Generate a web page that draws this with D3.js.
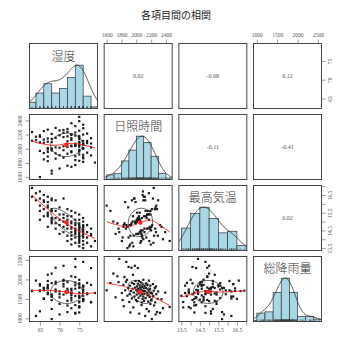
<!DOCTYPE html>
<html>
<head>
<meta charset="utf-8">
<title>各項目間の相関</title>
<style>
  body { margin: 0; background: #fff; }
  .tick text { font-family: "Liberation Serif", "DejaVu Serif", serif; font-size: 5.5px; fill: #555; }
  .tick line { stroke: #555; }
  .corr { font-family: "Liberation Serif", "DejaVu Serif", serif; font-size: 6px; fill: #555; }
  .varname { font-family: "Noto Sans CJK JP", sans-serif; font-size: 12px; fill: #333; font-weight: 300; }
  .title { font-family: "Noto Sans CJK JP", sans-serif; font-size: 10px; fill: #222; }
</style>
</head>
<body>
<svg id="chart" width="351" height="351"></svg>
<script src="https://d3js.org/d3.v7.min.js"></script>
<script>
// variable names (diagonal labels)
const varNames = ['湿度', '日照時間', '最高気温', '総降雨量'];

// one value per year, same order in every array
const humidity = [63,64,63,64,65,66,65,66,66,65, 66,65,66,65,67,68,67,68,67,68,
  67,68,67,68,67,68,67,68,67,68, 69,70,69,70,69,70,69,70,69,70,
  71,72,71,72,71,72,71,72,71,72, 71,72,72,73,74,73,74,73,74,73,
  74,73,74,73,74,73,74,73,74,74, 73,74,73,75,76,75,76,75,76,75,
  76,75,76,75,75,76,75,76,75,76, 75,76,75,76,75,76,75,76,75,76,
  75,77,78,77,78,77,78,77,78,79];
const sunshine = [2235,2170,2115,2120,2090,2085,1970,1940,1850,1600,
  2250,2190,2130,2170,2100,2095,1990,1975,1890,1650,
  2270,2210,2145,2140,2010,2005,1955,1995,1825,1690,
  2295,2260,2155,2190,2020,2015,1935,1910,1860,1720,
  2225,2280,2165,2105,2035,2025,1980,1930,1875,1760,
  2265,2240,2175,2125,2045,2035,2040,1950,1840,1745,
  2320,2205,2185,2150,2060,2045,2070,1965,1895,1770,
  2360,2230,2195,2160,2075,2050,2010,1985,1865,1830,
  2340,2255,2110,2180,2085,2060,2030,2000,1920,1815,
  2390,2290,2135,2200,2095,2065,2055,1915,1960,1880,
  2450,2215,2150,2110,2020,2080,2075,1945,1905,1805];
const maxTemp = [16.9,16.6,16.4,16.2,16.7,16.5,16.3,16.2,16.1,15.9,
  15.7,15.6,15.3,15.1,16.4,16.2,16.1,16.3,15.8,15.6,
  15.9,15.7,15.4,15.2,15.5,15.1,15.3,14.9,14.7,15.0,
  16.2,15.8,15.6,15.4,15.2,15.1,14.9,14.8,14.6,14.3,
  16.3,15.7,15.4,15.3,15.2,15.1,15.0,14.8,14.7,14.6,
  14.4,14.2,13.9,15.6,15.5,15.3,15.1,15.0,14.9,14.9,
  14.8,14.7,14.6,14.6,14.5,14.4,14.3,14.2,14.1,14.4,
  14.0,13.8,13.7,15.4,15.2,15.1,15.0,14.9,14.8,14.8,
  14.7,14.6,14.6,14.7,14.5,14.4,14.3,14.3,14.2,14.1,
  14.4,14.2,14.1,14.5,14.0,13.9,13.8,13.7,13.6,13.5,
  13.9,14.8,14.6,14.4,14.3,14.1,14.2,13.8,13.6,13.9];
const rainfall = [1710,1970,1700,1060,1700,1500,1880,1510,1720,1720,
  1780,1840,1780,1180,1770,1560,1960,1560,1780,1905,
  1620,980,1660,1240,1820,1610,2120,1470,1860,2150,
  1690,1100,1740,1370,1890,1690,2300,1620,1940,1540,
  1880,1160,1610,1450,1960,1760,2350,1700,1990,1930,
  1820,1330,1690,1520,1850,1640,1120,1760,2060,2080,
  1140,1460,1760,1590,1920,1720,1340,1660,2320,2527,
  1260,1570,1650,1430,1810,1790,1440,1790,2450,1310,
  1490,1410,1830,1550,1870,1670,1530,1730,1150,1470,
  1660,1500,1900,1480,1990,1740,1580,1840,1280,1580,
  1290,1640,1860,1630,2290,1620,1410,1910,1420,1650];

// correlation labels (row, col, text)
const corrCells = [[0,1,'0.02'],[0,2,'-0.68'],[0,3,'0.12'],[1,2,'-0.11'],[1,3,'-0.41'],[2,3,'0.02']];

// histogram breaks
const humBreaks = [62,64,66,68,70,72,74,76,78,80];
const sunBreaks = [1600,1700,1800,1900,2000,2100,2200,2300,2400,2500];
const tempBreaks = [13.5,14,14.5,15,15.5,16,16.5,17];
const rainBreaks = [800,1000,1200,1400,1600,1800,2000,2200,2400,2600];

// axis ticks
const humTicks = [65,70,75];
const sunTicks = [1600,1800,2000,2200,2400];
const tempTicks = [13.5,14,14.5,15,15.5,16,16.5,17];
const tempTickLabels = [13.5,14.5,15.5,16.5];
const rainTicks = [1000,1500,2000,2500];

const data = [humidity, sunshine, maxTemp, rainfall];
const breaks = [humBreaks, sunBreaks, tempBreaks, rainBreaks];
const ticks = [humTicks, sunTicks, tempTicks, rainTicks];
const tickFmt = [d => d, d => d, d => tempTickLabels.includes(d) ? d.toFixed(1) : '', d => d];

const svg = d3.select('#chart');

const colBand = d3.scaleBand().domain(d3.range(4)).range([29.5, 321.5]).paddingInner(0.0894);
const rowBand = d3.scaleBand().domain(d3.range(4)).range([43.5, 321.5]).paddingInner(0.0845);
const pw = colBand.bandwidth(), ph = rowBand.bandwidth();

function padded(v) {
  const e = d3.extent(v), d = (e[1] - e[0]) * 0.04;
  return [e[0] - d, e[1] + d];
}
const xScales = data.map((v, j) => d3.scaleLinear().domain(padded(v)).range([colBand(j), colBand(j) + pw]));
const yScales = data.map((v, i) => d3.scaleLinear().domain(padded(v)).range([rowBand(i) + ph, rowBand(i)]));

// R style histogram: right closed, lowest included
function histCounts(v, br) {
  return br.slice(0, -1).map((b, k) => v.filter(x => (k === 0 ? x >= b : x > b) && x <= br[k + 1]).length);
}

// gaussian density, bw.nrd * 1.2
function density(v) {
  const n = v.length, s = v.slice().sort(d3.ascending);
  const iqr = d3.quantileSorted(s, 0.75) - d3.quantileSorted(s, 0.25);
  const bw = 1.06 * Math.min(d3.deviation(v), iqr / 1.34) * Math.pow(n, -0.2) * 1.2;
  const lo = s[0] - 3 * bw, hi = s[n - 1] + 3 * bw;
  const pts = d3.range(512).map(k => {
    const x = lo + (hi - lo) * k / 511;
    return [x, d3.sum(v, xi => Math.exp(-0.5 * ((x - xi) / bw) ** 2))];
  });
  const m = d3.max(pts, p => p[1]);
  return pts.map(p => [p[0], p[1] / m]);
}

// lowess (f = 2/3, iter = 3)
function lowess(xs, ys, f = 2 / 3, iter = 3) {
  const n = xs.length;
  const order = d3.range(n).sort((a, b) => xs[a] - xs[b]);
  const x = order.map(i => xs[i]), y = order.map(i => ys[i]);
  const ns = Math.max(2, Math.min(n, Math.floor(f * n + 1e-7)));
  let rw = new Array(n).fill(1), fit = new Array(n).fill(0);
  for (let it = 0; it <= iter; it++) {
    let nl = 0, nr = ns - 1;
    for (let i = 0; i < n; i++) {
      while (nr < n - 1 && x[i] - x[nl] > x[nr + 1] - x[i]) { nl++; nr++; }
      const h = Math.max(x[i] - x[nl], x[nr] - x[i]);
      let sw = 0, sx = 0, sy = 0;
      const w = x.map((xj, j) => {
        const r = Math.abs(xj - x[i]);
        let wt = 0;
        if (r <= 0.999 * h) wt = r <= 0.001 * h ? 1 : (1 - (r / h) ** 3) ** 3;
        return wt * rw[j];
      });
      for (let j = 0; j < n; j++) { sw += w[j]; sx += w[j] * x[j]; sy += w[j] * y[j]; }
      if (sw <= 0) { fit[i] = y[i]; continue; }
      const xm = sx / sw, ym = sy / sw;
      let sxx = 0, sxy = 0;
      for (let j = 0; j < n; j++) { sxx += w[j] * (x[j] - xm) ** 2; sxy += w[j] * (x[j] - xm) * (y[j] - ym); }
      fit[i] = sxx > 1e-12 ? ym + sxy / sxx * (x[i] - xm) : ym;
    }
    if (it === iter) break;
    const res = y.map((yy, k) => yy - fit[k]);
    const cmad = 6 * d3.median(res.map(Math.abs));
    if (cmad < 1e-7) break;
    rw = res.map(r => {
      const a = Math.abs(r);
      if (a <= 0.001 * cmad) return 1;
      if (a > 0.999 * cmad) return 0;
      return (1 - (a / cmad) ** 2) ** 2;
    });
  }
  return x.map((xx, k) => [xx, fit[k]]);
}

// psych style ellipse (1 sd)
function ellipsePts(xv, yv) {
  const xm = d3.mean(xv), ym = d3.mean(yv), xs = d3.deviation(xv), ys = d3.deviation(yv);
  const r = d3.sum(xv, (v, k) => (v - xm) * (yv[k] - ym)) / ((xv.length - 1) * xs * ys);
  const th = (r !== 0 ? Math.sign(r) : 1) / Math.sqrt(2);
  const a = Math.sqrt(1 + r), b = Math.sqrt(1 - r);
  const pts = d3.range(52).map(k => {
    const ang = k * 2 * Math.PI / 51, c = Math.cos(ang), s = Math.sin(ang);
    return [(c * a * th - s * b * th) * xs + xm, (c * a * th + s * b * th) * ys + ym];
  });
  return { pts, xm, ym };
}

const defs = svg.append('defs');

svg.append('text').attr('class', 'title')
  .attr('x', 176).attr('y', 19).attr('text-anchor', 'middle')
  .text('各項目間の相関');

for (let i = 0; i < 4; i++) {
  for (let j = 0; j < 4; j++) {
    const x0 = colBand(j), y0 = rowBand(i);
    const clipId = `clip-${i}-${j}`;
    defs.append('clipPath').attr('id', clipId)
      .append('rect').attr('x', x0).attr('y', y0).attr('width', pw).attr('height', ph);
    const g = svg.append('g');
    const inner = g.append('g').attr('clip-path', `url(#${clipId})`);
    const xs = xScales[j];

    if (i === j) {
      const v = data[i], br = breaks[i];
      const counts = histCounts(v, br);
      const mx = d3.max(counts);
      const yh = d3.scaleLinear().domain([0, 1.5]).range([y0 + ph, y0]);
      inner.selectAll('rect.bar').data(counts).join('rect')
        .attr('class', 'bar')
        .attr('x', (c, k) => xs(br[k]))
        .attr('width', (c, k) => xs(br[k + 1]) - xs(br[k]))
        .attr('y', c => yh(c / mx))
        .attr('height', c => yh(0) - yh(c / mx))
        .attr('fill', '#a8d8e8').attr('stroke', '#333').attr('stroke-width', 0.7);
      inner.append('path').datum(density(v))
        .attr('d', d3.line().x(p => xs(p[0])).y(p => yh(p[1])))
        .attr('fill', 'none').attr('stroke', '#222').attr('stroke-width', 0.8);
      inner.selectAll('line.rug').data(v).join('line')
        .attr('class', 'rug')
        .attr('x1', d => xs(d)).attr('x2', d => xs(d))
        .attr('y1', y0 + ph).attr('y2', y0 + ph - 2)
        .attr('stroke', '#333').attr('stroke-width', 0.5);
      g.append('text').attr('class', 'varname')
        .attr('x', x0 + pw / 2).attr('y', y0 + 11.5)
        .attr('text-anchor', 'middle').attr('dominant-baseline', 'central')
        .text(varNames[i]);
    } else if (i > j) {
      const xv = data[j], yv = data[i], ys = yScales[i];
      inner.selectAll('rect.pt').data(xv).join('rect')
        .attr('class', 'pt')
        .attr('x', (d, k) => xs(d) - 1.1).attr('y', (d, k) => ys(yv[k]) - 1.1)
        .attr('width', 2.2).attr('height', 2.2).attr('fill', '#1a1a1a');
      inner.append('path').datum(lowess(xv, yv))
        .attr('d', d3.line().x(p => xs(p[0])).y(p => ys(p[1])))
        .attr('fill', 'none').attr('stroke', '#ff2020').attr('stroke-width', 0.9);
      const el = ellipsePts(xv, yv);
      inner.append('path').datum(el.pts)
        .attr('d', d3.line().x(p => xs(p[0])).y(p => ys(p[1])))
        .attr('fill', 'none').attr('stroke', '#222').attr('stroke-width', 0.7);
      inner.append('circle').attr('cx', xs(el.xm)).attr('cy', ys(el.ym)).attr('r', 2.3).attr('fill', '#ff2020');
    }

    g.append('rect').attr('x', x0).attr('y', y0).attr('width', pw).attr('height', ph)
      .attr('fill', 'none').attr('stroke', '#444').attr('stroke-width', 1);
  }
}

corrCells.forEach(([i, j, t]) => {
  svg.append('text').attr('class', 'corr')
    .attr('x', colBand(j) + pw / 2).attr('y', rowBand(i) + ph / 2)
    .attr('text-anchor', 'middle').attr('dominant-baseline', 'central')
    .text(t);
});

// axes: top on cols 2,4; bottom on cols 1,3; left on rows 2,4; right on rows 1,3
function styleAxis(sel) {
  sel.select('.domain').remove();
  sel.selectAll('.tick line').attr('stroke', '#555').attr('stroke-width', 0.6);
}
[1, 3].forEach(j => {
  svg.append('g').attr('transform', `translate(0,${rowBand(0)})`)
    .call(d3.axisTop(xScales[j]).tickValues(ticks[j]).tickFormat(tickFmt[j]).tickSize(4).tickPadding(3))
    .call(styleAxis);
});
[0, 2].forEach(j => {
  svg.append('g').attr('transform', `translate(0,${rowBand(3) + ph})`)
    .call(d3.axisBottom(xScales[j]).tickValues(ticks[j]).tickFormat(tickFmt[j]).tickSize(4).tickPadding(3))
    .call(styleAxis);
});
[1, 3].forEach(i => {
  const ax = svg.append('g').attr('transform', `translate(${colBand(0)},0)`)
    .call(d3.axisLeft(yScales[i]).tickValues(ticks[i]).tickFormat(tickFmt[i]).tickSize(4))
    .call(styleAxis);
  ax.selectAll('.tick text').attr('x', 0).attr('y', -8).attr('dy', 0)
    .attr('transform', 'rotate(-90)').attr('text-anchor', 'middle');
});
[0, 2].forEach(i => {
  const ax = svg.append('g').attr('transform', `translate(${colBand(3) + pw},0)`)
    .call(d3.axisRight(yScales[i]).tickValues(ticks[i]).tickFormat(tickFmt[i]).tickSize(4))
    .call(styleAxis);
  ax.selectAll('.tick text').attr('x', 0).attr('y', 10).attr('dy', 0)
    .attr('transform', 'rotate(-90)').attr('text-anchor', 'middle');
});
</script>
</body>
</html>
